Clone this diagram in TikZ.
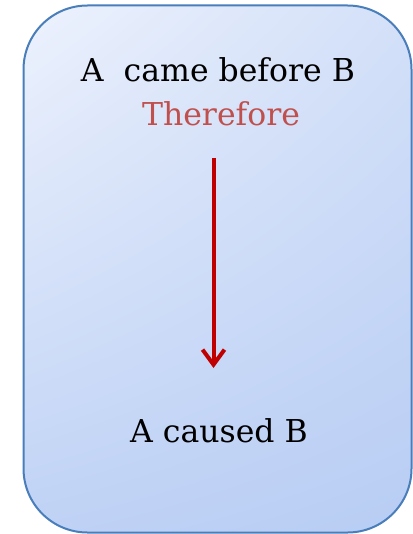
\documentclass[tikz,border=0pt]{standalone}
\usepackage{fontspec}
\setmainfont{DejaVu Serif}
\usetikzlibrary{arrows.meta,shadings}
\definecolor{boxline}{HTML}{4A7EBB}
\definecolor{ulc}{HTML}{EDF2FD}
\definecolor{urc}{HTML}{D3E0F8}
\definecolor{llc}{HTML}{BFD2F5}
\definecolor{lrc}{HTML}{B8CDF4}
\definecolor{thered}{HTML}{C0504D}
\definecolor{arrowred}{HTML}{C00000}
\begin{document}
\begin{tikzpicture}[x=1pt,y=-1pt,
  txt/.style={font=\fontsize{31.5}{36}\selectfont, text=black, inner sep=0pt, anchor=base},
  boxshape/.style={rounded corners=64pt, draw=boxline, line width=2pt},
  arr/.style={draw=arrowred, line width=4pt, -{Straight Barb[length=15pt,width=22pt,line width=4pt]}}]
\useasboundingbox (0,0) rectangle (412,534);
\shade[upper left=ulc, upper right=urc, lower left=llc, lower right=lrc, rounded corners=64pt]
  (23.5,5.5) rectangle (411.5,532.5);
\draw[boxshape] (23.5,5.5) rectangle (411.5,532.5);
\node[txt] (t1) at (218,82) {A\ \ came before B};
\node[txt, text=thered] (t2) at (221,126) {Therefore};
\node[txt] (t3) at (219,442) {A caused B};
\coordinate (a1) at (213.5,158);
\coordinate (a2) at (213.5,368);
\draw[arr] (a1) -- (a2);
\end{tikzpicture}
\end{document}
